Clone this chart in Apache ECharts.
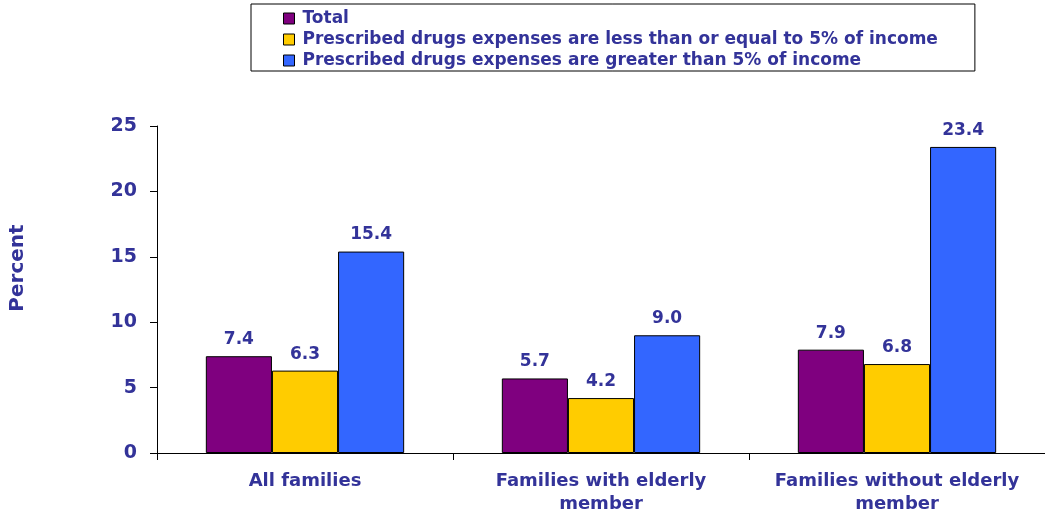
<!DOCTYPE html>
<html><head><meta charset="utf-8">
<script src="https://cdn.jsdelivr.net/npm/echarts@6/dist/echarts.min.js"></script>
<style>html,body{margin:0;padding:0;background:#fff}#c{width:1045px;height:516px}</style>
</head><body><div id="c"></div>
<script>
const categories = ['All families', 'Families with elderly\nmember', 'Families without elderly\nmember'];
const seriesNames = ['Total', 'Prescribed drugs expenses are less than or equal to 5% of income', 'Prescribed drugs expenses are greater than 5% of income'];
const totalValues = [7.4, 5.7, 7.9];
const lessEqualValues = [6.3, 4.2, 6.8];
const greaterValues = [15.4, 9.0, 23.4];
const yAxisTitle = 'Percent';
const colors = ['#7F007F', '#FFCC00', '#3366FF'];
const textColor = '#333399';
const font = 'DejaVu Sans, sans-serif';

const chart = echarts.init(document.getElementById('c'));
function mk(name, data, color) {
  return {
    name, type: 'bar', data, barGap: '0%', barCategoryGap: '33%',
    itemStyle: { color, borderColor: '#000', borderWidth: 1 },
    label: { show: true, position: 'top', distance: 8, color: textColor, fontWeight: 'bold', fontSize: 17, fontFamily: font,
      formatter: p => p.value.toFixed(1) }
  };
}
chart.setOption({
  animation: false,
  textStyle: { fontFamily: font },
  legend: {
    orient: 'vertical', left: 251, top: 4,
    data: seriesNames,
    icon: 'rect', itemWidth: 11, itemHeight: 11, itemGap: 4,
    padding: [6, 37, 2, 32],
    borderColor: '#000', borderWidth: 1,
    itemStyle: { borderColor: '#000', borderWidth: 1 },
    textStyle: { color: textColor, fontWeight: 'bold', fontSize: 17, fontFamily: font, padding: [0, 0, 0, 3] }
  },
  graphic: [{
    type: 'text', x: 18, y: 268, rotation: Math.PI / 2,
    style: { text: yAxisTitle, fill: textColor, font: 'bold 20px DejaVu Sans, sans-serif', align: 'center', verticalAlign: 'middle' }
  }],
  grid: { left: 157, right: 0, top: 126, bottom: 63, containLabel: false },
  xAxis: {
    type: 'category', data: categories,
    axisLine: { lineStyle: { color: '#000', width: 1 } },
    axisTick: { show: true, length: 7, lineStyle: { color: '#000' } },
    axisLabel: { color: textColor, fontWeight: 'bold', fontSize: 18, fontFamily: font, margin: 17, lineHeight: 23, interval: 0 }
  },
  yAxis: {
    type: 'value', min: 0, max: 25, interval: 5,
    axisLine: { show: true, lineStyle: { color: '#000', width: 1 } },
    axisTick: { show: true, length: 7, lineStyle: { color: '#000' } },
    axisLabel: { color: textColor, fontWeight: 'bold', fontSize: 19, fontFamily: font, margin: 20 },
    splitLine: { show: false }
  },
  series: [
    mk(seriesNames[0], totalValues, colors[0]),
    mk(seriesNames[1], lessEqualValues, colors[1]),
    mk(seriesNames[2], greaterValues, colors[2])
  ]
});
</script></body></html>
